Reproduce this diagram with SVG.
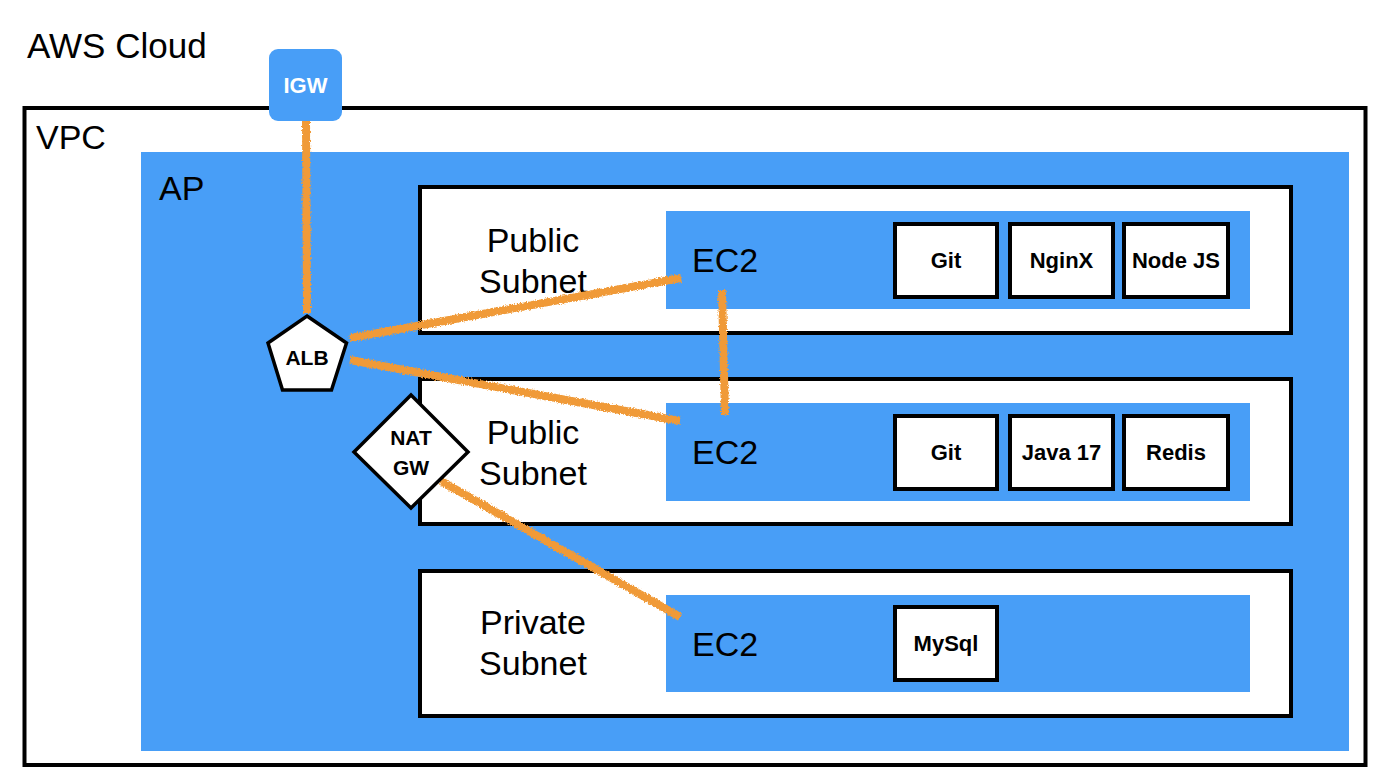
<svg xmlns="http://www.w3.org/2000/svg" width="1390" height="780" viewBox="0 0 1390 780">
<defs>
<style>
.t{font-family:"Liberation Sans",Arial,sans-serif;fill:#000}
.big{font-size:34px}
.sm{font-size:22px;font-weight:bold;text-anchor:middle}
.box{fill:#fff;stroke:#000;stroke-width:4}
.blue{fill:#489ef7}
.conn{stroke:#f09a37;stroke-width:8;fill:none;stroke-linecap:butt}
</style>
<filter id="rough" filterUnits="userSpaceOnUse" x="0" y="0" width="1390" height="780">
<feTurbulence type="fractalNoise" baseFrequency="0.7" numOctaves="2" seed="4" result="n"/>
<feDisplacementMap in="SourceGraphic" in2="n" scale="4" xChannelSelector="R" yChannelSelector="G"/>
</filter>
</defs>
<rect width="1390" height="780" fill="#fff"/>
<text class="t" x="27" y="58" font-size="35">AWS Cloud</text>
<g id="vpc">
<rect x="24.5" y="108" width="1341" height="657" fill="#fff" stroke="#000" stroke-width="4"/>
<text class="t big" x="36" y="149">VPC</text>
</g>
<g id="ap">
<rect class="blue" x="141" y="152" width="1208" height="599"/>
<text class="t big" x="159" y="200">AP</text>
</g>
<g id="subnet1">
<rect class="box" x="420" y="187" width="871" height="146"/>
<text class="t big" x="533" y="252" text-anchor="middle">Public</text>
<text class="t big" x="533" y="293" text-anchor="middle">Subnet</text>
</g>
<g id="subnet2">
<rect class="box" x="420" y="379" width="871" height="145"/>
<text class="t big" x="533" y="444" text-anchor="middle">Public</text>
<text class="t big" x="533" y="485" text-anchor="middle">Subnet</text>
</g>
<g id="subnet3">
<rect class="box" x="420" y="571" width="871" height="145"/>
<text class="t big" x="533" y="634" text-anchor="middle">Private</text>
<text class="t big" x="533" y="675" text-anchor="middle">Subnet</text>
</g>
<g id="ec2-1">
<rect class="blue" x="666" y="211" width="584" height="98"/>
<text class="t big" x="692" y="272">EC2</text>
</g>
<g id="ec2-2">
<rect class="blue" x="666" y="403" width="584" height="98"/>
<text class="t big" x="692" y="464">EC2</text>
</g>
<g id="ec2-3">
<rect class="blue" x="666" y="595" width="584" height="97"/>
<text class="t big" x="692" y="656">EC2</text>
</g>
<g id="git1"><rect class="box" x="895" y="224" width="102" height="73"/><text class="t sm" x="946" y="268">Git</text></g>
<g id="nginx"><rect class="box" x="1010" y="224" width="103" height="73"/><text class="t sm" x="1061.5" y="268">NginX</text></g>
<g id="nodejs"><rect class="box" x="1124" y="224" width="104" height="73"/><text class="t sm" x="1176" y="268">Node JS</text></g>
<g id="git2"><rect class="box" x="895" y="416" width="102" height="73"/><text class="t sm" x="946" y="460">Git</text></g>
<g id="java17"><rect class="box" x="1010" y="416" width="103" height="73"/><text class="t sm" x="1061.5" y="460">Java 17</text></g>
<g id="redis"><rect class="box" x="1124" y="416" width="104" height="73"/><text class="t sm" x="1176" y="460">Redis</text></g>
<g id="mysql"><rect class="box" x="895" y="607" width="102" height="73"/><text class="t sm" x="946" y="651">MySql</text></g>
<g id="connectors" filter="url(#rough)">
<line class="conn" x1="306" y1="120" x2="307" y2="313"/>
<line class="conn" x1="350" y1="338" x2="681" y2="278"/>
<line class="conn" x1="350" y1="360" x2="680" y2="421"/>
<line class="conn" x1="722" y1="290" x2="725" y2="415"/>
<line class="conn" x1="441" y1="481" x2="680" y2="617"/>
</g>
<g id="igw">
<rect class="blue" x="269" y="49" width="73" height="72" rx="9"/>
<text class="t" x="305.5" y="93" font-size="22" font-weight="bold" text-anchor="middle" style="fill:#fff">IGW</text>
</g>
<g id="alb">
<polygon points="307,316 346.5,343 331.5,390 282.5,390 268,343" fill="#fff" stroke="#000" stroke-width="3.5"/>
<text class="t" x="307" y="365" font-size="21" text-anchor="middle" font-weight="bold">ALB</text>
</g>
<g id="natgw">
<polygon points="411,395 468,452 411,508 354,452" fill="#fff" stroke="#000" stroke-width="3.5"/>
<text class="t" x="411" y="445" font-size="21" text-anchor="middle" font-weight="bold">NAT</text>
<text class="t" x="411" y="475" font-size="21" text-anchor="middle" font-weight="bold">GW</text>
</g>
</svg>
